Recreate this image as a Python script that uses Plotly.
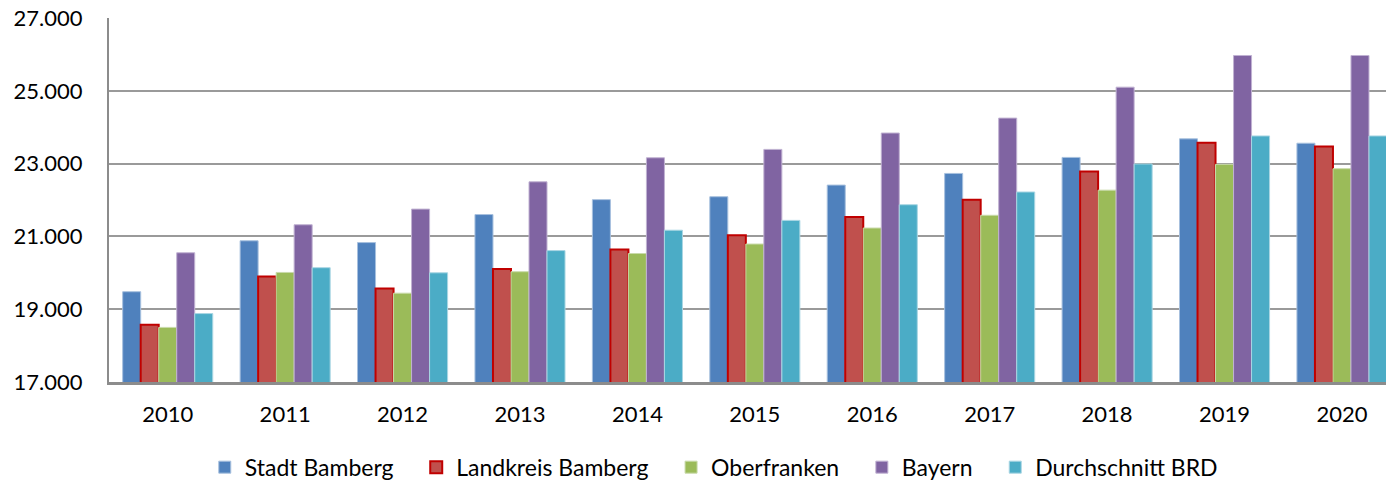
import plotly.graph_objects as go

years = ["2010", "2011", "2012", "2013", "2014", "2015", "2016", "2017", "2018", "2019", "2020"]
stadt_bamberg = [19480, 20880, 20830, 21600, 22010, 22090, 22410, 22730, 23170, 23680, 23560]
landkreis_bamberg = [18570, 19900, 19570, 20105, 20640, 21030, 21530, 22010, 22780, 23570, 23470]
oberfranken = [18500, 20010, 19440, 20030, 20530, 20790, 21230, 21580, 22270, 22980, 22860]
bayern = [20550, 21320, 21750, 22500, 23160, 23390, 23840, 24250, 25100, 25970, 25970]
brd = [18880, 20140, 20000, 20610, 21170, 21440, 21870, 22220, 22990, 23760, 23760]

series = [
    ("Stadt Bamberg", stadt_bamberg, "#4F81BD", "#A7C0DE", 1),
    ("Landkreis Bamberg", landkreis_bamberg, "#C0504D", "#C00000", 2),
    ("Oberfranken", oberfranken, "#9BBB59", "#C9DAAA", 1),
    ("Bayern", bayern, "#8064A2", "#C0B2D2", 1),
    ("Durchschnitt BRD", brd, "#4BACC6", "#A9D6E3", 1),
]

FONT = "Lato"
PAD = "\u00a0\u00a0\u00a0"

fig = go.Figure()
for name, vals, fill, edge, lw in series:
    fig.add_trace(go.Bar(
        name=name + PAD, x=years, y=vals,
        marker=dict(color=fill, line=dict(color=edge, width=lw)),
    ))

fig.update_layout(
    width=1386, height=482,
    margin=dict(l=109, r=0, t=18, b=100, autoexpand=False),
    paper_bgcolor="white", plot_bgcolor="white",
    barmode="group", bargap=0.233, bargroupgap=0,
    separators=",.",
    font=dict(family=FONT, size=22, color="#000000"),
    showlegend=True,
    legend=dict(
        orientation="h", x=0.075, y=-0.175, xanchor="left", yanchor="top",
        font=dict(family=FONT, size=23, color="#000000"),
        itemwidth=30, traceorder="normal",
    ),
    xaxis=dict(
        type="category", range=[-0.5, 10.375], automargin=False,
        showgrid=False, showline=True, linecolor="#8C8C8C", linewidth=3,
        ticks="", ticklabelstandoff=11,
        tickfont=dict(family=FONT, size=22, color="#000000"),
    ),
    yaxis=dict(
        range=[17000, 27000], dtick=2000, tick0=17000, automargin=False,
        tickformat=",d",
        showgrid=True, gridcolor="#9A9A9A", gridwidth=2,
        showline=True, linecolor="#8C8C8C", linewidth=2,
        ticks="", ticklabelstandoff=20,
        zeroline=False,
        tickfont=dict(family=FONT, size=22, color="#000000"),
    ),
)

fig.write_html(
    "out.html",
    config={"displayModeBar": False},
    post_script="document.body.style.margin='0';document.body.style.overflow='hidden';",
)
